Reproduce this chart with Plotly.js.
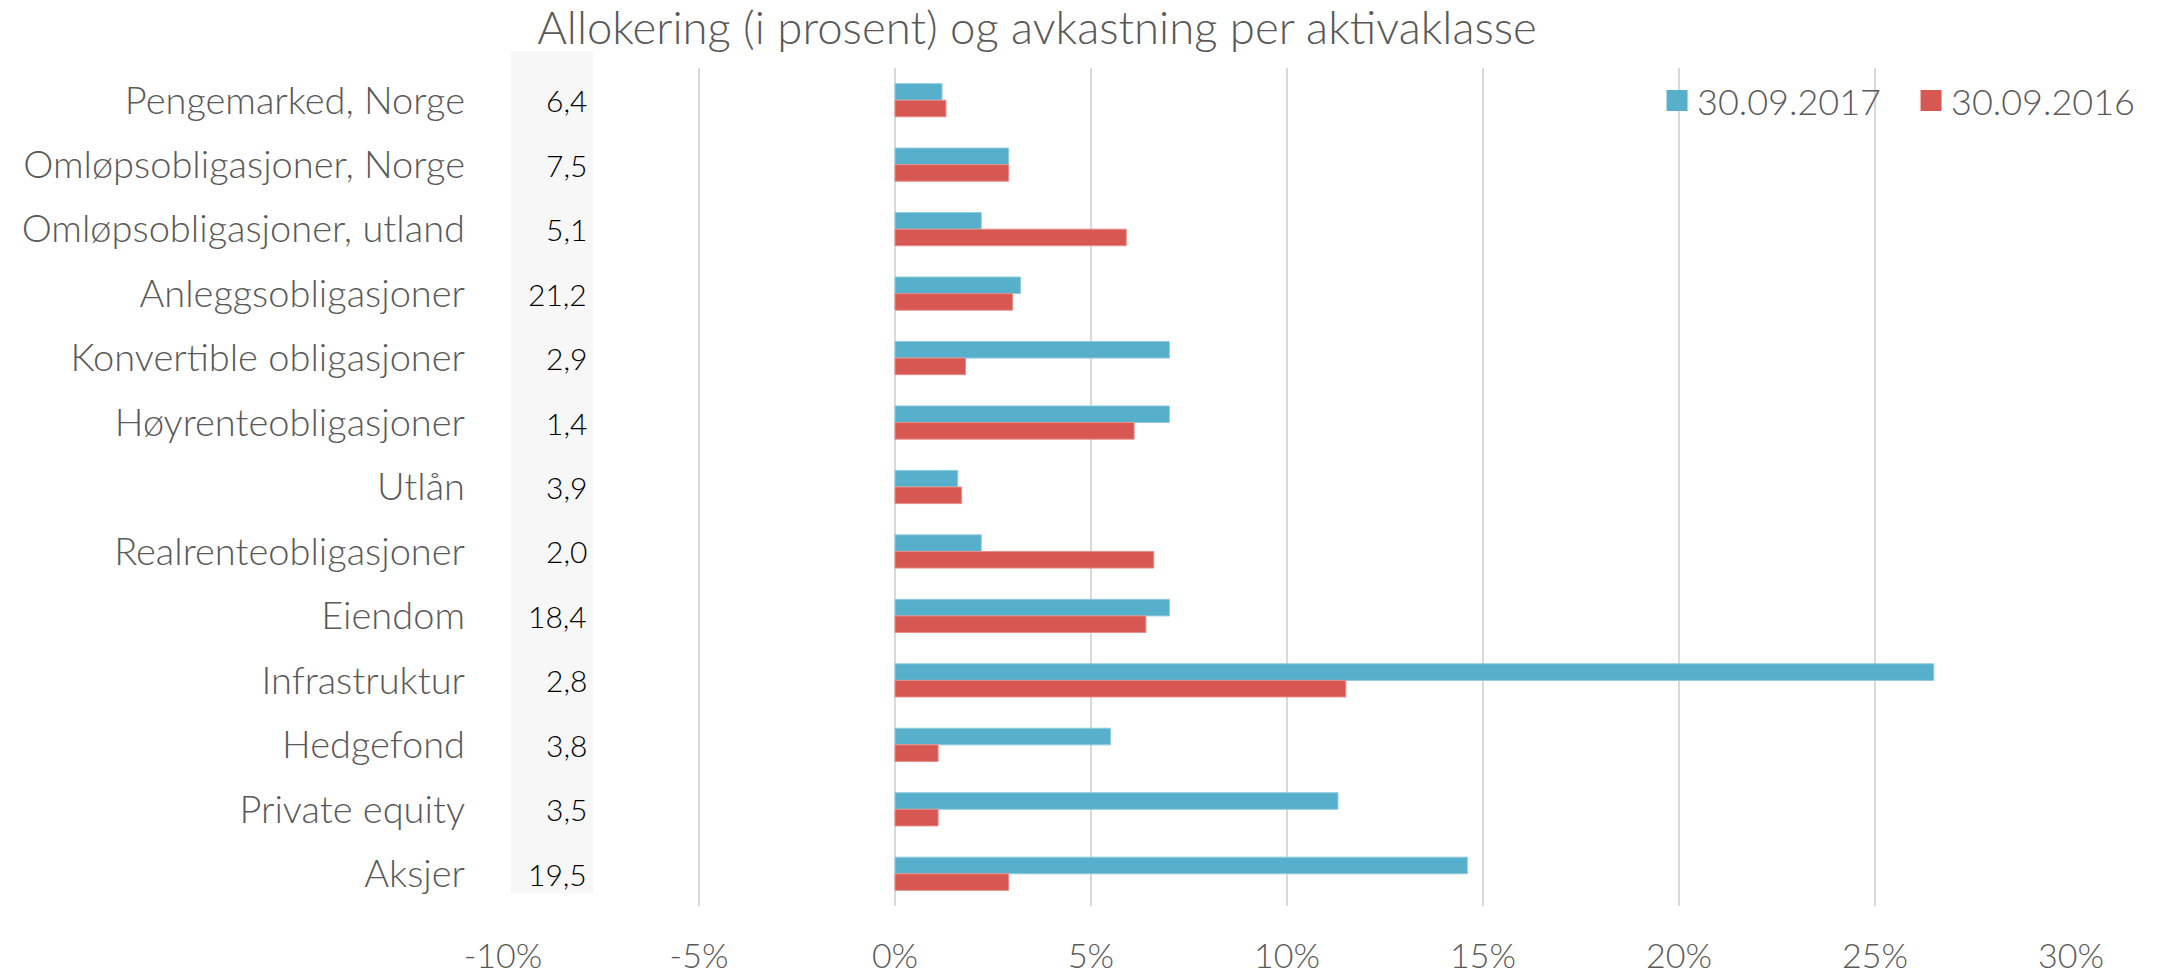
<!DOCTYPE html>
<html>
<head>
<meta charset="utf-8">
<script src="https://cdn.plot.ly/plotly-3.0.1.min.js"></script>
<style>html,body{margin:0;padding:0;background:#fff;}</style>
</head>
<body>
<div id="chart" style="width:2165px;height:978px;"></div>
<script>
const categories = [
  "Pengemarked, Norge",
  "Omløpsobligasjoner, Norge",
  "Omløpsobligasjoner, utland",
  "Anleggsobligasjoner",
  "Konvertible obligasjoner",
  "Høyrenteobligasjoner",
  "Utlån",
  "Realrenteobligasjoner",
  "Eiendom",
  "Infrastruktur",
  "Hedgefond",
  "Private equity",
  "Aksjer"
];
const allocation = ["6,4","7,5","5,1","21,2","2,9","1,4","3,9","2,0","18,4","2,8","3,8","3,5","19,5"];
const return2017 = [1.2, 2.9, 2.2, 3.2, 7.0, 7.0, 1.6, 2.2, 7.0, 26.5, 5.5, 11.3, 14.6];
const return2016 = [1.3, 2.9, 5.9, 3.0, 1.8, 6.1, 1.7, 6.6, 6.4, 11.5, 1.1, 1.1, 2.9];
const seriesNames = ["30.09.2017", "30.09.2016"];
const seriesColors = ["#56B0CB", "#D75852"];
const xTickValues = [-10, -5, 0, 5, 10, 15, 20, 25, 30];
const xTickLabels = ["-10%", "-5%", "0%", "5%", "10%", "15%", "20%", "25%", "30%"];

const FONT = "Lato, 'Open Sans', sans-serif";
const GRAY = "#595959";

const traces = [
  {
    type: "bar", orientation: "h", name: seriesNames[0],
    y: categories, x: return2017, showlegend: false, legendgroup: "a",
    marker: {color: seriesColors[0], line: {color: "#8fcbdc", width: 1}}
  },
  {
    type: "bar", orientation: "h", name: seriesNames[1],
    y: categories, x: return2016, showlegend: false, legendgroup: "b",
    marker: {color: seriesColors[1], line: {color: "#e58f8a", width: 1}}
  },
  {
    type: "scatter", mode: "markers", name: seriesNames[0], legend: "legend",
    legendgroup: "a", x: [null], y: [null],
    marker: {symbol: "square", size: 16, color: seriesColors[0], line: {color: seriesColors[0], width: 5}}
  },
  {
    type: "scatter", mode: "markers", name: seriesNames[1], legend: "legend2",
    legendgroup: "b", x: [null], y: [null],
    marker: {symbol: "square", size: 16, color: seriesColors[1], line: {color: seriesColors[1], width: 5}}
  }
];

const annotations = categories.map((c, i) => ({
  x: -7.8, y: c, xref: "x", yref: "y",
  text: allocation[i], showarrow: false, xanchor: "right", yanchor: "middle",
  font: {family: FONT, size: 30, color: "#000000", weight: 300}
}));

const legendCommon = {
  orientation: "h", xanchor: "left", y: 0.961, yanchor: "middle",
  bgcolor: "rgba(0,0,0,0)", font: {family: FONT, size: 36, color: GRAY, weight: 300},
  itemwidth: 30, itemsizing: "trace"
};

const layout = {
  width: 2165, height: 978,
  paper_bgcolor: "#ffffff", plot_bgcolor: "#ffffff",
  margin: {l: 503, r: 94, t: 68, b: 72, pad: 0},
  font: {family: FONT, color: GRAY},
  title: {
    text: "Allokering (i prosent) og avkastning per aktivaklasse",
    x: 0.479, xanchor: "center", y: 0.971, yanchor: "middle",
    font: {family: FONT, size: 45.5, color: GRAY, weight: 300}
  },
  barmode: "group", bargap: 0.485, bargroupgap: 0,
  xaxis: {
    range: [-10, 30], tickvals: xTickValues, ticktext: xTickLabels,
    showgrid: true, gridcolor: "#d9d9d9", gridwidth: 2,
    zeroline: false, showline: false, ticks: "",
    ticklabelstandoff: 27,
    tickfont: {family: FONT, size: 34, color: GRAY, weight: 300},
    fixedrange: true
  },
  yaxis: {
    autorange: "reversed", showgrid: false, zeroline: false, showline: false,
    ticks: "", ticklabelstandoff: 37,
    tickfont: {family: FONT, size: 38, color: GRAY, weight: 300},
    fixedrange: true
  },
  legend: Object.assign({x: 0.736}, legendCommon),
  legend2: Object.assign({x: 0.898}, legendCommon),
  shapes: [{
    type: "rect", xref: "x", yref: "paper", x0: -9.8, x1: -7.7, y0: 0.015, y1: 1.02,
    fillcolor: "#f7f7f7", line: {width: 0}, layer: "below"
  }],
  annotations: annotations,
  showlegend: true
};

Plotly.newPlot("chart", traces, layout, {displayModeBar: false, staticPlot: true});
</script>
</body>
</html>
